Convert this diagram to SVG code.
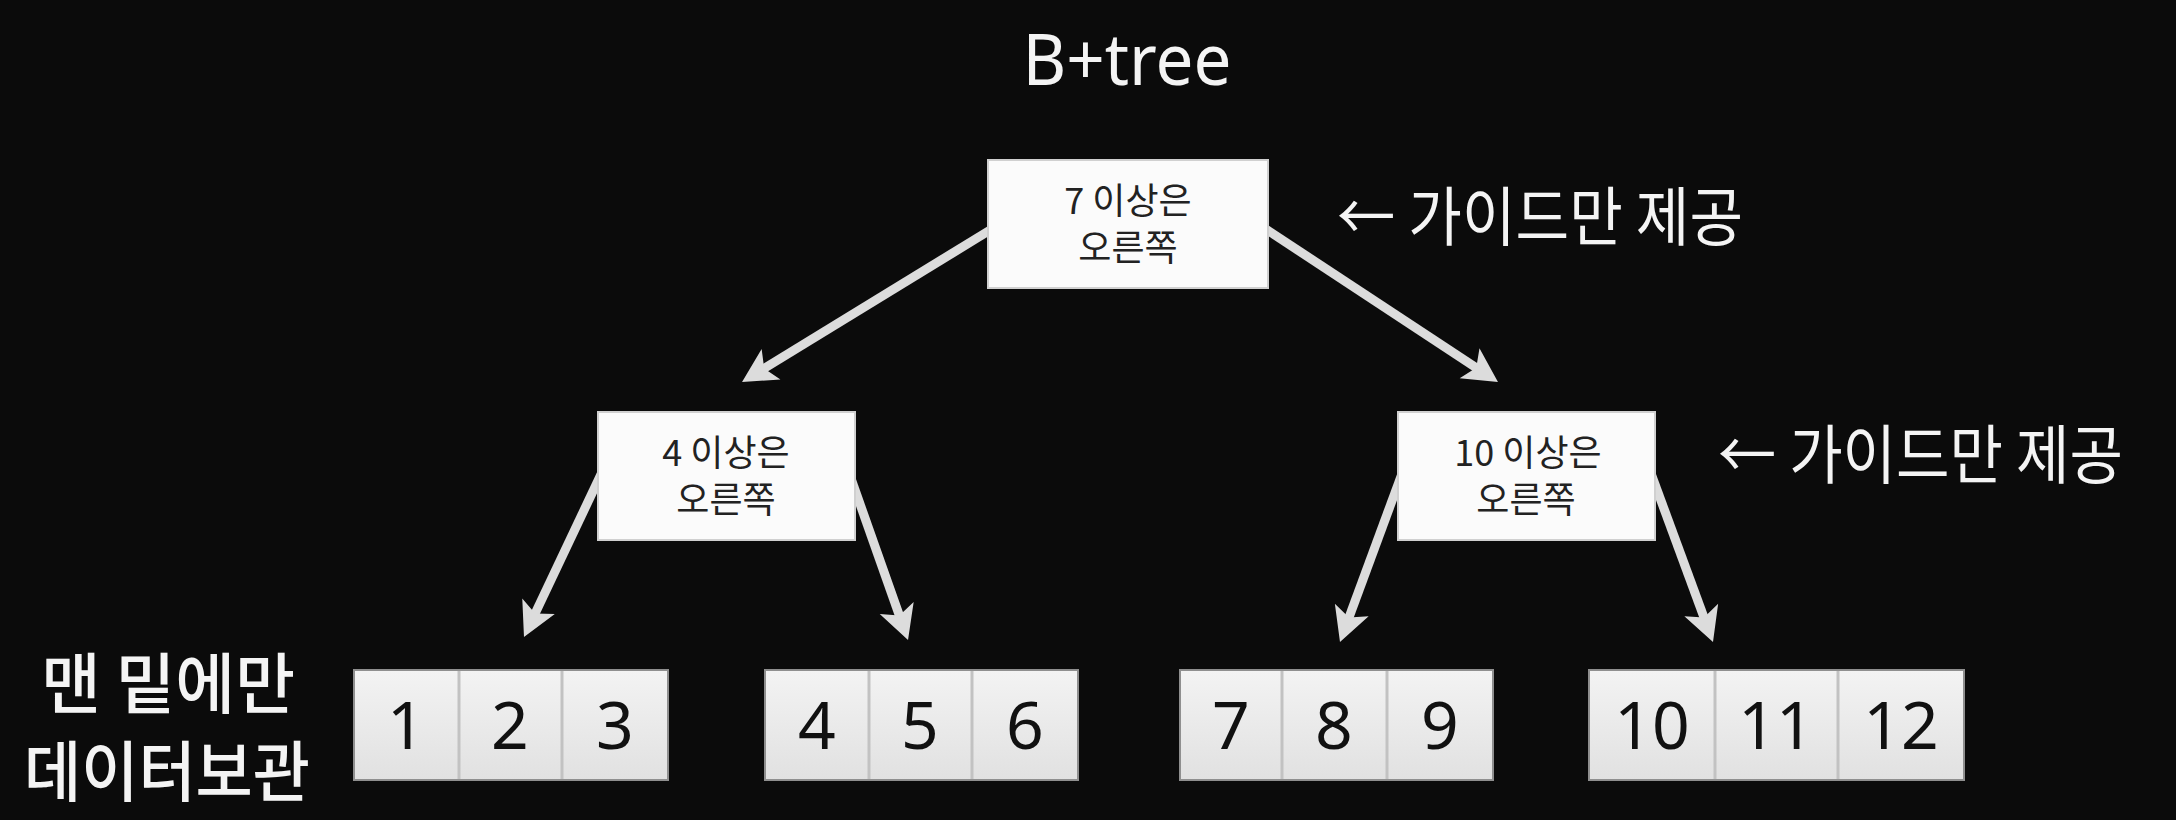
<svg xmlns="http://www.w3.org/2000/svg" width="2176" height="820" viewBox="0 0 2176 820">
<style>
.bg{fill:#0b0b0b}
.title{font-family:"Noto Sans","Noto Sans CJK KR",sans-serif;font-size:72px;fill:#f4f4f4;text-anchor:middle}
.note{font-family:"Noto Sans CJK KR",sans-serif;font-size:64px;fill:#f4f4f4}
.side{font-family:"Noto Sans CJK KR",sans-serif;font-size:66px;font-weight:500;fill:#f4f4f4;text-anchor:middle}
.ibox{fill:#fbfbfb;stroke:#d0d0d0;stroke-width:2}
.itext{font-family:"Noto Sans CJK KR",sans-serif;font-size:36px;fill:#222;text-anchor:middle}
.leaf{fill:url(#lg);stroke:#8f8f8f;stroke-width:2}
.div{stroke:#c2c2c2;stroke-width:3}
.num{font-family:"Noto Sans",sans-serif;font-size:66px;fill:#111;text-anchor:middle}
.edge{stroke:#dcdcdc;stroke-width:9;fill:none;marker-end:url(#ah)}
</style>
<defs>
<linearGradient id="lg" x1="0" y1="0" x2="0" y2="1">
<stop offset="0" stop-color="#f3f3f3"/>
<stop offset="1" stop-color="#e1e1e1"/>
</linearGradient>
<marker id="ah" markerUnits="userSpaceOnUse" markerWidth="60" markerHeight="60" refX="0" refY="0" orient="auto" overflow="visible">
<path d="M22,0 L-12,-18 L-4,0 L-12,18 Z" fill="#dcdcdc"/>
</marker>
</defs>
<rect class="bg" x="0" y="0" width="2176" height="820"/>
<text class="title" x="1127" y="85" textLength="209" lengthAdjust="spacingAndGlyphs">B+tree</text>
<g id="connectors">
<line class="edge" x1="1000" y1="224" x2="760.8" y2="370.5"/>
<line class="edge" x1="604" y1="468" x2="533.4" y2="617.1"/>
<line class="edge" x1="848" y1="470" x2="900.7" y2="619.2"/>
<line class="edge" x1="1255" y1="222" x2="1479.6" y2="369.9"/>
<line class="edge" x1="1403" y1="471" x2="1347.6" y2="621.3"/>
<line class="edge" x1="1649" y1="468" x2="1705.4" y2="621.3"/>
</g>
<g id="root">
<rect class="ibox" x="988" y="160" width="280" height="128"/>
<text class="itext" x="1128" y="214">7 이상은</text>
<text class="itext" x="1128" y="261">오른쪽</text>
</g>
<g id="root-note">
<text class="note" x="1337" y="240" textLength="406" lengthAdjust="spacingAndGlyphs">← 가이드만 제공</text>
</g>
<g id="mid-left">
<rect class="ibox" x="598" y="412" width="257" height="128"/>
<text class="itext" x="726" y="466">4 이상은</text>
<text class="itext" x="726" y="513">오른쪽</text>
</g>
<g id="mid-right">
<rect class="ibox" x="1398" y="412" width="257" height="128"/>
<text class="itext" x="1528" y="466">10 이상은</text>
<text class="itext" x="1526" y="513">오른쪽</text>
</g>
<g id="mid-note">
<text class="note" x="1718" y="478" textLength="405" lengthAdjust="spacingAndGlyphs">← 가이드만 제공</text>
</g>
<g id="leaf-label">
<text class="side" x="168" y="708" textLength="254" lengthAdjust="spacingAndGlyphs">맨 밑에만</text>
<text class="side" x="167" y="796" textLength="286" lengthAdjust="spacingAndGlyphs">데이터보관</text>
</g>
<g id="leaf-1">
<rect class="leaf" x="354" y="670" width="314" height="110"/>
<line class="div" x1="459" y1="671" x2="459" y2="779"/>
<line class="div" x1="562" y1="671" x2="562" y2="779"/>
<text class="num" x="406" y="749">1</text>
<text class="num" x="510" y="749">2</text>
<text class="num" x="615" y="749">3</text>
</g>
<g id="leaf-2">
<rect class="leaf" x="765" y="670" width="313" height="110"/>
<line class="div" x1="869" y1="671" x2="869" y2="779"/>
<line class="div" x1="972" y1="671" x2="972" y2="779"/>
<text class="num" x="817" y="749">4</text>
<text class="num" x="920" y="749">5</text>
<text class="num" x="1025" y="749">6</text>
</g>
<g id="leaf-3">
<rect class="leaf" x="1180" y="670" width="313" height="110"/>
<line class="div" x1="1282" y1="671" x2="1282" y2="779"/>
<line class="div" x1="1387" y1="671" x2="1387" y2="779"/>
<text class="num" x="1231" y="749">7</text>
<text class="num" x="1334" y="749">8</text>
<text class="num" x="1440" y="749">9</text>
</g>
<g id="leaf-4">
<rect class="leaf" x="1589" y="670" width="375" height="110"/>
<line class="div" x1="1715" y1="671" x2="1715" y2="779"/>
<line class="div" x1="1838" y1="671" x2="1838" y2="779"/>
<text class="num" x="1652" y="749">10</text>
<text class="num" x="1776" y="749">11</text>
<text class="num" x="1901" y="749">12</text>
</g>
</svg>
